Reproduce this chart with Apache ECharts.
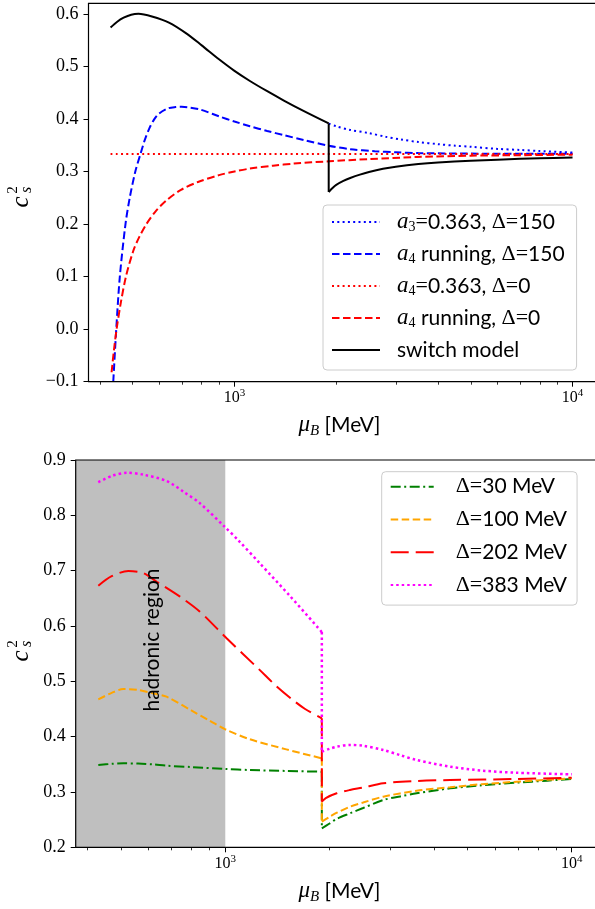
<!DOCTYPE html>
<html><head><meta charset="utf-8">
<script src="https://cdn.jsdelivr.net/npm/echarts@6/dist/echarts.min.js"></script>
<style>html,body{margin:0;padding:0;background:#fff}#c{width:595px;height:909px}</style>
</head><body><div id="c"></div>
<script>
// ---------------- data ----------------
const muRange = [370, 12000];
const xMajorTicks = [1000, 10000];
const xMinorTicks = [400, 500, 600, 700, 800, 900, 2000, 3000, 4000, 5000, 6000, 7000, 8000, 9000];
const topYRange = [-0.1, 0.62];
const topYTicks = [-0.1, 0, 0.1, 0.2, 0.3, 0.4, 0.5, 0.6];
const botYRange = [0.2, 0.9];
const botYTicks = [0.2, 0.3, 0.4, 0.5, 0.6, 0.7, 0.8, 0.9];
const hadronicRegion = [370, 1000];

// top panel: [mu_B (MeV), c_s^2]
const a3Delta150 = [[1900,0.391],[2000,0.386],[2200,0.379],[2500,0.373],[2800,0.366],[3100,0.361],[3500,0.356],[4000,0.352],[4500,0.349],[5000,0.347],[6000,0.343],[7000,0.341],[8000,0.339],[10000,0.336]];
const a4RunDelta150 = [[438,-0.1],[447,0.0],[458,0.1],[476,0.2],[490,0.25],[509,0.3],[527,0.333],[543,0.36],[560,0.382],[580,0.4],[598,0.41],[636,0.42],[670,0.4225],[698,0.423],[740,0.4215],[791,0.418],[900,0.405],[1000,0.395],[1111,0.386],[1250,0.377],[1400,0.369],[1600,0.360],[1900,0.349],[2200,0.3425],[2600,0.3385],[3000,0.3365],[3500,0.335],[5000,0.334],[10000,0.3335]];
const a4ConstDelta0 = [[430,0.3333],[10000,0.3333]];
const a4RunDelta0 = [[433,-0.082],[440,-0.04],[448,0.0],[461,0.05],[477.5,0.1],[502.6,0.15],[523.5,0.176],[549,0.2],[586,0.225],[629,0.245],[694.5,0.265],[780,0.28],[900,0.293],[1000,0.30],[1111,0.3055],[1300,0.311],[1500,0.315],[1903,0.3194],[2500,0.3235],[3459,0.3276],[5000,0.330],[7000,0.331],[10000,0.332]];
const switchModel = [[430,0.574],[450,0.585],[470,0.5926],[495,0.5983],[520,0.600],[570,0.595],[640,0.5834],[720,0.5629],[800,0.540],[900,0.5134],[1000,0.4914],[1111,0.4722],[1250,0.4527],[1400,0.435],[1600,0.4153],[1900,0.3914],[1900,0.261],[1950,0.2685],[2000,0.2745],[2100,0.282],[2200,0.2875],[2350,0.294],[2500,0.299],[2750,0.305],[3000,0.309],[3500,0.314],[4000,0.317],[5000,0.3205],[6000,0.3225],[7000,0.324],[8000,0.325],[10000,0.3265]];

// bottom panel
const delta30 = [[430,0.3487],[470,0.3508],[508,0.3518],[560,0.3513],[620,0.3497],[677,0.3475],[800,0.345],[1000,0.3415],[1178,0.3397],[1500,0.338],[1900,0.3367],[1900,0.2343],[2000,0.243],[2100,0.2515],[2291,0.2614],[2500,0.271],[2858,0.2855],[3200,0.292],[3568,0.2976],[4455,0.3066],[5500,0.312],[6937,0.3168],[8500,0.3205],[10000,0.3234]];
const delta100 = [[430,0.4675],[470,0.479],[508,0.486],[560,0.4845],[620,0.478],[677,0.4722],[800,0.447],[900,0.429],[1000,0.4132],[1178,0.3952],[1500,0.377],[1900,0.3608],[1900,0.2463],[2000,0.255],[2100,0.2625],[2291,0.2734],[2500,0.281],[2858,0.2915],[3568,0.3023],[4455,0.3084],[5500,0.314],[6937,0.3186],[8500,0.322],[10000,0.3247]];
const delta202 = [[430,0.6728],[470,0.690],[525,0.6994],[580,0.6955],[634,0.68],[740,0.653],[845,0.6258],[1009,0.5777],[1250,0.522],[1400,0.492],[1555,0.468],[1700,0.450],[1900,0.4331],[1900,0.2824],[1950,0.289],[2097,0.2976],[2291,0.3036],[2500,0.308],[2858,0.3157],[3568,0.3198],[4455,0.3216],[6937,0.3234],[10000,0.3258]];
const delta383 = [[430,0.8597],[470,0.871],[520,0.877],[580,0.8735],[677,0.862],[760,0.842],[845,0.8217],[1000,0.7783],[1090,0.755],[1259,0.713],[1538,0.654],[1900,0.589],[1900,0.3728],[2000,0.378],[2097,0.3818],[2291,0.385],[2500,0.3835],[2858,0.3759],[3200,0.3665],[3568,0.3578],[4455,0.3457],[5546,0.3385],[6937,0.3348],[10000,0.3319]];

const topNames = ['a3=0.363, Δ=150', 'a4 running, Δ=150', 'a4=0.363, Δ=0', 'a4 running, Δ=0', 'switch model'];
const botNames = ['Δ=30 MeV', 'Δ=100 MeV', 'Δ=202 MeV', 'Δ=383 MeV'];

// ---------------- styling ----------------
const SANS = 'Lato, "DejaVu Sans", sans-serif';
const SERIF = '"Liberation Serif", "DejaVu Serif", serif';
const L = Math.log10;

const topLegendLabels = {
  'a3=0.363, Δ=150': '{gap| }{m|a}{sb|3}{op|=}0.363, {op|Δ=}150',
  'a4 running, Δ=150': '{gap| }{m|a}{sb|4} running, {op|Δ=}150',
  'a4=0.363, Δ=0': '{gap| }{m|a}{sb|4}{op|=}0.363, {op|Δ=}0',
  'a4 running, Δ=0': '{gap| }{m|a}{sb|4} running, {op|Δ=}0',
  'switch model': '{gap| }switch model'
};
const botLegendLabels = {};
botNames.forEach(n => { botLegendLabels[n] = '{gap| }{op|Δ=}' + n.replace('Δ=', ''); });

function legendRich(gap) {
  return {
    gap: {width: gap, fontSize: 21, lineHeight: 24},
    m: {fontFamily: SERIF, fontStyle: 'italic', fontSize: 23, lineHeight: 24, color: '#000'},
    sb: {fontFamily: SERIF, fontSize: 14, lineHeight: 14, verticalAlign: 'bottom', color: '#000'},
    op: {fontFamily: SERIF, fontSize: 22, lineHeight: 24, color: '#000'}
  };
}

const fmtY = v => (Math.abs(v) < 1e-9 ? 0 : v).toFixed(1).replace('-', '\u2212');
const fmtX = v => '{b|10}{sup|' + Math.round(v) + '}';
const xRich = {
  b: {fontFamily: SERIF, fontSize: 16, lineHeight: 20, color: '#000'},
  sup: {fontFamily: SERIF, fontSize: 11, lineHeight: 12, verticalAlign: 'top', color: '#000'}
};

function xAxesFor(g) {
  return [
    {type: 'log', logBase: 10, gridIndex: g, min: muRange[0], max: muRange[1], position: 'bottom',
     axisLine: {show: false, onZero: false}, axisTick: {show: false}, axisLabel: {show: false}, splitLine: {show: false}},
    {type: 'value', gridIndex: g, min: L(muRange[0]), max: L(muRange[1]), position: 'bottom',
     axisLine: {show: false, onZero: false}, splitLine: {show: false},
     axisTick: {show: true, length: 5, lineStyle: {color: '#000', width: 1}, customValues: xMajorTicks.map(L)},
     axisLabel: {show: true, customValues: xMajorTicks.map(L), formatter: fmtX, rich: xRich, margin: 6}},
    {type: 'value', gridIndex: g, min: L(muRange[0]), max: L(muRange[1]), position: 'bottom',
     axisLine: {show: false, onZero: false}, splitLine: {show: false},
     axisTick: {show: true, length: 3, lineStyle: {color: '#000', width: 0.8}, customValues: xMinorTicks.map(L)},
     axisLabel: {show: false}}
  ];
}
function yAxisFor(g, range, ticks) {
  return {type: 'value', gridIndex: g, min: range[0], max: range[1],
    axisLine: {show: false, onZero: false}, splitLine: {show: false},
    axisTick: {show: true, length: 5, lineStyle: {color: '#000', width: 1}, customValues: ticks},
    axisLabel: {show: true, customValues: ticks, formatter: fmtY, fontFamily: SERIF, fontSize: 18, color: '#000', margin: 10}};
}

function line(name, data, color, dash, width, xi, yi, smooth, extra) {
  return Object.assign({
    type: 'line', name: name, data: data, xAxisIndex: xi, yAxisIndex: yi,
    showSymbol: false, symbol: 'none', smooth: smooth, clip: true, animation: false,
    lineStyle: {color: color, width: width, type: dash, cap: 'butt'},
    itemStyle: {color: color}, emphasis: {disabled: true}
  }, extra || {});
}
// smooth pieces, with the discontinuity (two points at the same mu) drawn as a straight vertical segment
function curve(name, data, color, dash, width, xi, yi, extra) {
  const out = [];
  let start = 0;
  for (let i = 0; i < data.length - 1; i++) {
    if (data[i][0] === data[i + 1][0]) {
      out.push(line(name, data.slice(start, i + 1), color, dash, width, xi, yi, 0.3));
      out.push(line(name, [data[i], data[i + 1]], color, dash, width, xi, yi, false));
      start = i + 1;
    }
  }
  out.push(line(name, data.slice(start), color, dash, width, xi, yi, 0.3));
  if (extra) Object.assign(out[0], extra);
  return out;
}

const DOT = [2, 3.3], DASH = [7.5, 3.5], LONG = [18, 7], DASHDOT = [10, 3.5, 2, 3.5];

const series = [].concat(
  curve(topNames[0], a3Delta150, '#0000ff', DOT, 2, 0, 0),
  curve(topNames[1], a4RunDelta150, '#0000ff', DASH, 2, 0, 0),
  curve(topNames[2], a4ConstDelta0, '#ff0000', DOT, 2, 0, 0),
  curve(topNames[3], a4RunDelta0, '#ff0000', DASH, 2, 0, 0),
  curve(topNames[4], switchModel, '#000000', 'solid', 2, 0, 0),
  curve(botNames[0], delta30, '#008000', DASHDOT, 2, 3, 1, {
    markArea: {silent: true, itemStyle: {color: '#bfbfbf', borderWidth: 0}, label: {show: false},
      data: [[{xAxis: hadronicRegion[0], yAxis: botYRange[0]}, {xAxis: hadronicRegion[1], yAxis: botYRange[1]}]]}
  }),
  curve(botNames[1], delta100, '#ffa500', DASH, 2, 3, 1),
  curve(botNames[2], delta202, '#ff0000', LONG, 2, 3, 1),
  curve(botNames[3], delta383, '#ff00ff', [2.5, 3], 2.5, 3, 1)
);

const titleRich = {
  mu: {fontFamily: SERIF, fontStyle: 'italic', fontSize: 23, lineHeight: 28, color: '#000'},
  sub: {fontFamily: SERIF, fontStyle: 'italic', fontSize: 15, lineHeight: 15, verticalAlign: 'bottom', color: '#000'},
  u: {fontFamily: SANS, fontSize: 21, lineHeight: 28, color: '#000'}
};
function xTitle(x, y) {
  return {type: 'text', x: x, y: y, z: 100,
    style: {text: '{mu|μ}{sub|B}{u| [MeV]}', rich: titleRich, fill: '#000',
      textAlign: 'center', textVerticalAlign: 'middle', align: 'center', verticalAlign: 'middle'}};
}
function yTitle(x, y) {
  const st = (t, size, italic) => ({text: t, fontFamily: SERIF, fontStyle: italic ? 'italic' : 'normal', fontSize: size, fill: '#000',
    textAlign: 'center', textVerticalAlign: 'middle', align: 'center', verticalAlign: 'middle'});
  return {type: 'group', x: x, y: y, rotation: Math.PI / 2, z: 100, children: [
    {type: 'text', x: -6, y: 0, style: st('c', 25, true)},
    {type: 'text', x: 6, y: 6, style: st('s', 16, true)},
    {type: 'text', x: 6, y: -8, style: st('2', 15, false)}
  ]};
}

const option = {
  backgroundColor: '#fff',
  animation: false,
  grid: [
    {left: 88.5, top: 3.3, width: 510.8, height: 378.4, show: true, borderColor: '#000', borderWidth: 1.2,
     backgroundColor: 'rgba(0,0,0,0)', containLabel: false, outerBoundsMode: 'none', z: 10},
    {left: 75.7, top: 460, width: 523.4, height: 387.3, show: true, borderColor: '#000', borderWidth: 1.2,
     backgroundColor: 'rgba(0,0,0,0)', containLabel: false, outerBoundsMode: 'none', z: 10}
  ],
  xAxis: xAxesFor(0).concat(xAxesFor(1)),
  yAxis: [yAxisFor(0, topYRange, topYTicks), yAxisFor(1, botYRange, botYTicks)],
  legend: [
    {orient: 'vertical', left: 323, top: 205, itemWidth: 48, itemHeight: 24, itemGap: 8, padding: [5, 12, 8, 8],
     backgroundColor: 'rgba(255,255,255,0.8)', borderColor: '#cccccc', borderWidth: 1, borderRadius: 4,
     selectedMode: false, data: topNames, formatter: n => topLegendLabels[n],
     itemStyle: {opacity: 0}, lineStyle: {width: 2},
     textStyle: {fontFamily: SANS, fontSize: 21, lineHeight: 24, color: '#000', rich: legendRich(12)}},
    {orient: 'vertical', left: 381.7, top: 471.7, itemWidth: 43, itemHeight: 24, itemGap: 8.8, padding: [3, 10, 8, 8],
     backgroundColor: 'rgba(255,255,255,0.8)', borderColor: '#cccccc', borderWidth: 1, borderRadius: 4,
     selectedMode: false, data: botNames, formatter: n => botLegendLabels[n],
     itemStyle: {opacity: 0}, lineStyle: {width: 2},
     textStyle: {fontFamily: SANS, fontSize: 21, lineHeight: 24, color: '#000', rich: legendRich(17)}}
  ],
  graphic: [
    xTitle(339.5, 425),
    xTitle(339.5, 891),
    yTitle(21, 196),
    yTitle(21, 650),
    {type: 'text', x: 152, y: 640, rotation: Math.PI / 2, z: 100,
     style: {text: 'hadronic region', fontFamily: SANS, fontSize: 21, fill: '#000',
       textAlign: 'center', textVerticalAlign: 'middle', align: 'center', verticalAlign: 'middle'}}
  ],
  series: series
};

const chart = echarts.init(document.getElementById('c'), null, {renderer: 'canvas'});
chart.setOption(option);
</script>
</body></html>
